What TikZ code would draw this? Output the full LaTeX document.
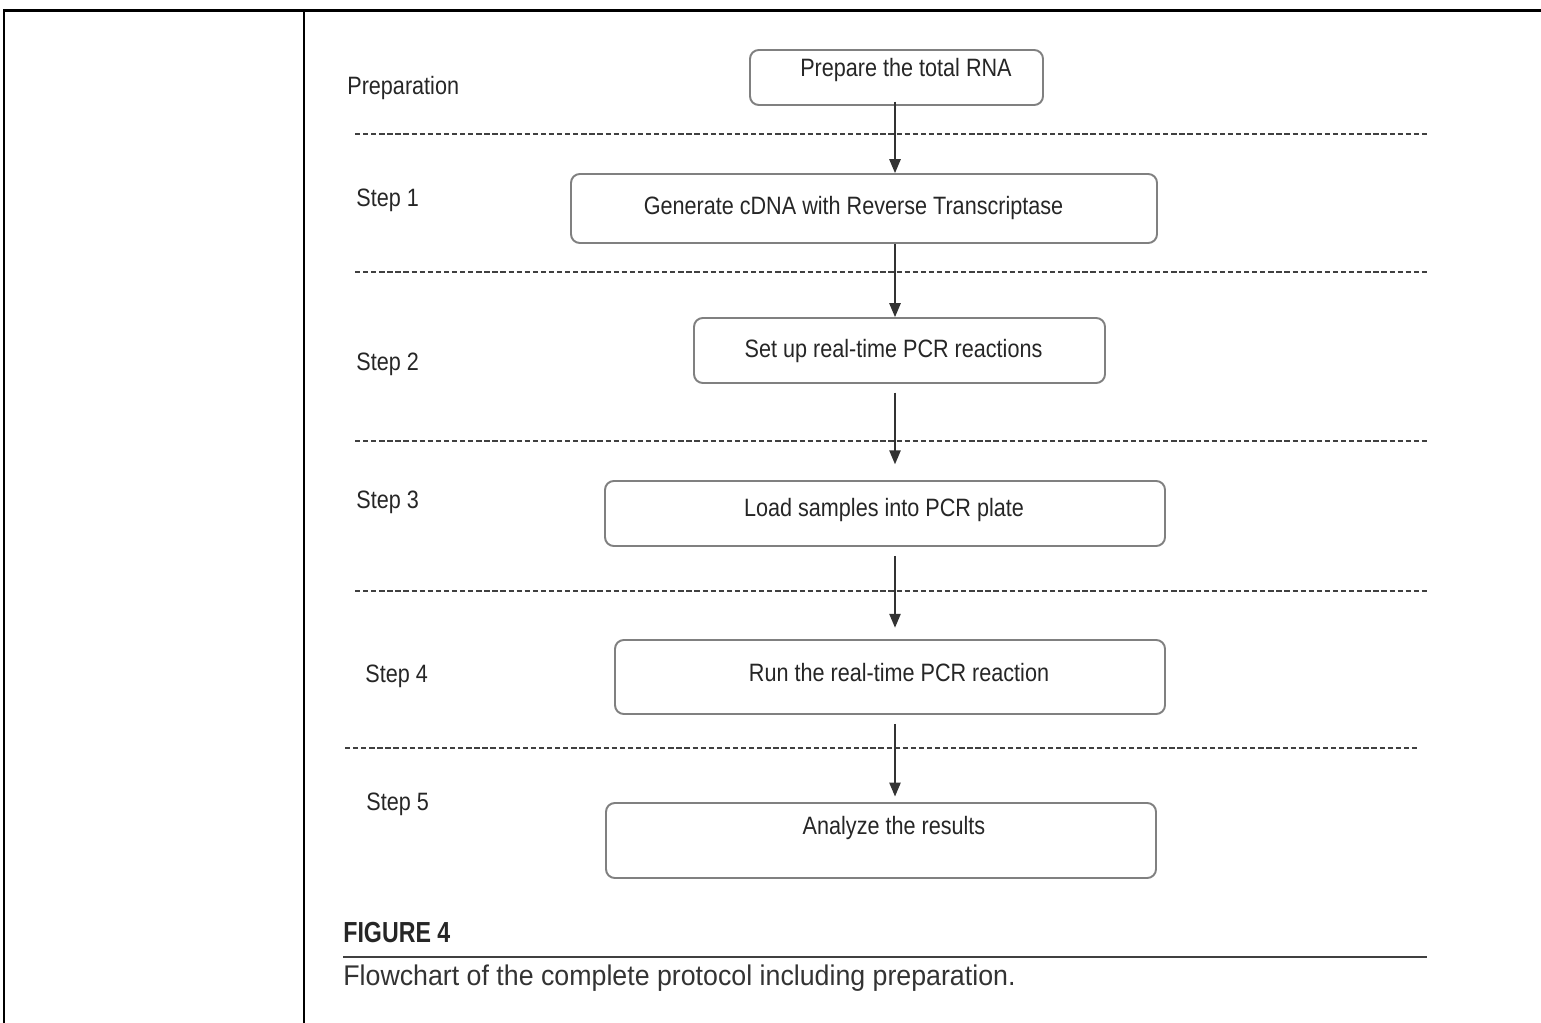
\documentclass[tikz,border=0pt]{standalone}
\usepackage{fontspec}
\setmainfont{Liberation Sans}[FakeStretch=0.86]
\newfontfamily\capfont{Liberation Sans}[FakeStretch=0.94]
\newfontfamily\figfont{Liberation Sans}[FakeStretch=0.8]
\usetikzlibrary{arrows}

\tikzset{
  stepbox/.style 2 args={draw=black!50, line width=1.1pt, rounded corners=5pt,
    minimum width=#1*0.02cm, minimum height=#2*0.02cm, inner sep=0pt},
  boxtext/.style={anchor=base, inner sep=0pt, text=black!85,
    font=\fontsize{14.3pt}{17pt}\selectfont},
  steplabel/.style={anchor=base west, inner sep=0pt, text=black!85,
    font=\fontsize{14.3pt}{17pt}\selectfont},
  flow/.style={-triangle 45, line width=0.8pt, draw=black!80},
  sep/.style={dashed, dash pattern=on 3pt off 1.6pt, line width=0.7pt, draw=black!75},
  frame/.style={line width=1.7pt, draw=black}
}

\begin{document}
\begin{tikzpicture}[x=0.02cm, y=-0.02cm]
\useasboundingbox (0,0) rectangle (1541,1023);

% table frame
\draw[frame] (4,1023) -- (4,11) -- (1541,11);
\draw[frame] (304,11) -- (304,1023);

% boxes
\path (896.5, 77.5) node[stepbox={293}{55}] (b0) {}
      (864, 208.5) node[stepbox={586}{69}] (b1) {}
      (899.5, 350.5) node[stepbox={411}{65}] (b2) {}
      (885, 513.5) node[stepbox={560}{65}] (b3) {}
      (890, 677) node[stepbox={550}{74}] (b4) {}
      (881, 840.5) node[stepbox={550}{75}] (b5) {};

\path (906, 77) node[boxtext] (t0) {Prepare the total RNA}
      (853.5, 215) node[boxtext] (t1) {Generate cDNA with Reverse Transcriptase}
      (893.5, 358) node[boxtext] (t2) {Set up real-time PCR reactions}
      (884, 517) node[boxtext] (t3) {Load samples into PCR plate}
      (899, 681) node[boxtext] (t4) {Run the real-time PCR reaction}
      (894, 834) node[boxtext] (t5) {Analyze the results};

% step names
\path (347, 95) node[steplabel] (p0) {Preparation}
      (356, 207) node[steplabel] (p1) {Step 1}
      (356, 371) node[steplabel] (p2) {Step 2}
      (356, 508) node[steplabel] (p3) {Step 3}
      (365, 682) node[steplabel] (p4) {Step 4}
      (366, 810) node[steplabel] (p5) {Step 5};

% separators
\foreach \y in {134, 272, 441, 591}
  \draw[sep] (355,\y) -- (1427,\y);
\draw[sep] (345,748) -- (1417,748);

% arrows
\coordinate (ax) at (895,0);
\draw[flow, shorten <=-2.5pt] (b0.south -| ax) to (b1.north -| ax);
\draw[flow] (b1.south -| ax) to (b2.north -| ax);
\draw[flow, shorten <=5pt, shorten >=9pt] (b2.south -| ax) to (b3.north -| ax);
\draw[flow, shorten <=5pt, shorten >=6.5pt] (b3.south -| ax) to (b4.north -| ax);
\draw[flow, shorten <=5pt, shorten >=3.2pt] (b4.south -| ax) to (b5.north -| ax);

% caption
\path (343, 942) node[anchor=base west, inner sep=0pt, text=black!85,
        font=\figfont\bfseries\fontsize{16.5pt}{19pt}\selectfont] (fig) {FIGURE 4}
      (343, 985) node[anchor=base west, inner sep=0pt, text=black!80,
        font=\capfont\fontsize{16.2pt}{19pt}\selectfont] (cap) {Flowchart of the complete protocol including preparation.};
\coordinate (rl) at (343, 957);
\coordinate (rr) at (1427, 957);
\draw[line width=0.9pt, draw=black!75] (rl) -- (rr);

\end{tikzpicture}
\end{document}
